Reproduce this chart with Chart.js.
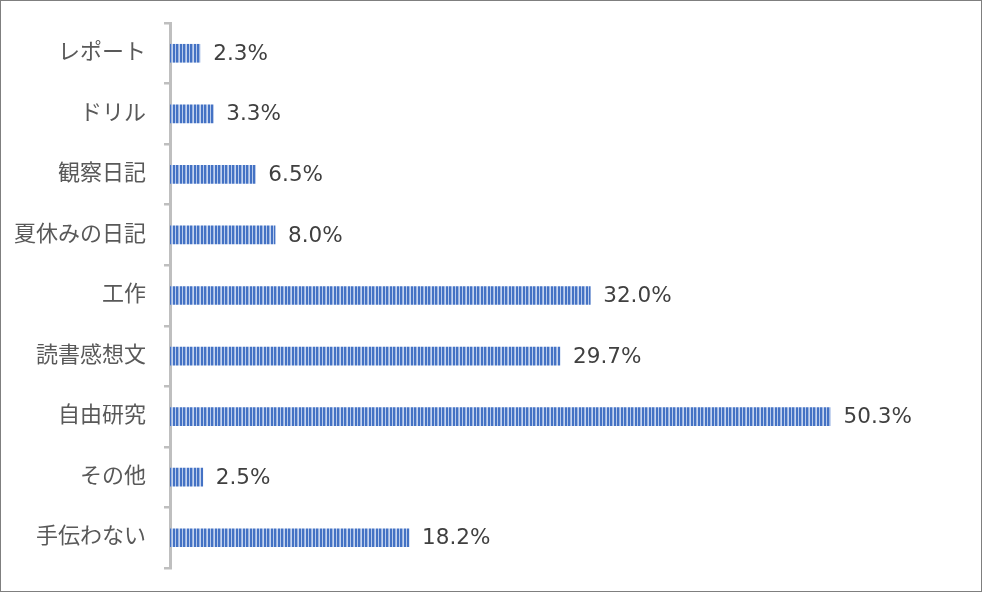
<!DOCTYPE html>
<html>
<head>
<meta charset="utf-8">
<script src="https://cdn.jsdelivr.net/npm/chart.js@4"></script>
<style>
    html, body { margin: 0; padding: 0; background: #fff; }
    #wrap {
        width: 982px; height: 592px; box-sizing: border-box;
        border: 1px solid #7f7f7f; position: relative;
    }
    #wrap canvas { display: block; }
</style>
</head>
<body>
<div id="wrap"><canvas id="helpChart" width="980" height="590"></canvas></div>
<script>
const categories = ['レポート', 'ドリル', '観察日記', '夏休みの日記', '工作', '読書感想文', '自由研究', 'その他', '手伝わない'];
const values = [2.3, 3.3, 6.5, 8.0, 32.0, 29.7, 50.3, 2.5, 18.2];
const axisMax = 60;

const jpFont = "'DejaVu Sans', 'Noto Sans CJK JP', sans-serif";

// Striped fill like the Excel "narrow vertical" pattern
function makeStripes() {
    const cols = ['#4472c4', '#4472c4', '#9db5e0', '#c5d4ef', '#4472c4', '#4472c4', '#b8cbec'];
    const tile = document.createElement('canvas');
    tile.width = cols.length;
    tile.height = 4;
    const t = tile.getContext('2d');
    cols.forEach((c, i) => {
        t.fillStyle = c;
        t.fillRect(i, 0, 1, 4);
    });
    return document.getElementById('helpChart').getContext('2d').createPattern(tile, 'repeat');
}

// Draw the percentage next to the end of each bar
const valueLabels = {
    id: 'valueLabels',
    afterDatasetsDraw(chart) {
        const ctx = chart.ctx;
        const meta = chart.getDatasetMeta(0);
        ctx.save();
        ctx.font = '21.5px ' + jpFont;
        ctx.fillStyle = '#404040';
        ctx.textAlign = 'left';
        ctx.textBaseline = 'middle';
        meta.data.forEach((bar, i) => {
            ctx.fillText(values[i].toFixed(1) + '%', bar.x + 13, bar.y + 1);
        });
        ctx.restore();
    }
};

const ctx = document.getElementById('helpChart').getContext('2d');
const helpChart = new Chart(ctx, {
    type: 'bar',
    data: {
        labels: categories,
        datasets: [{
            data: values,
            backgroundColor: makeStripes(),
            borderWidth: 0,
            barThickness: 18
        }]
    },
    options: {
        indexAxis: 'y',
        responsive: false,
        animation: false,
        devicePixelRatio: 1,
        layout: {
            padding: { top: 22, bottom: 23, right: 23, left: 0 }
        },
        plugins: {
            legend: { display: false },
            tooltip: { enabled: false }
        },
        scales: {
            x: {
                display: false,
                min: 0,
                max: axisMax
            },
            y: {
                afterFit(scale) {
                    scale.width = 169;
                    scale.paddingTop = 0;
                    scale.paddingBottom = 0;
                },
                grid: {
                    offset: true,
                    drawOnChartArea: false,
                    drawTicks: true,
                    tickLength: 6,
                    color: '#bfbfbf',
                    lineWidth: 2.5
                },
                border: {
                    display: true,
                    color: '#bfbfbf',
                    width: 3
                },
                ticks: {
                    padding: 18,
                    color: '#595959',
                    font: { family: jpFont, size: 22 }
                }
            }
        }
    },
    plugins: [valueLabels]
});
</script>
</body>
</html>
